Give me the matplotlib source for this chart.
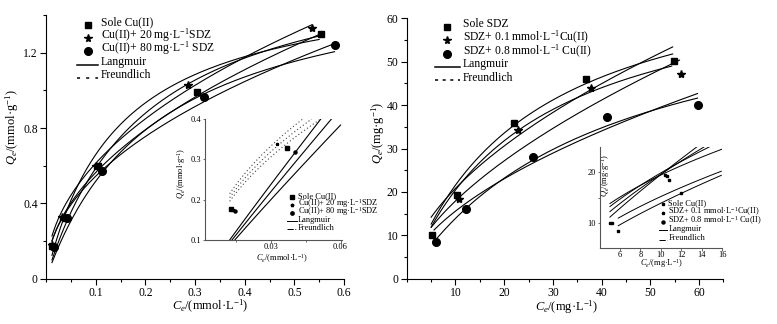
import numpy as np
import matplotlib
matplotlib.use("Agg")
import matplotlib.pyplot as plt
from matplotlib.lines import Line2D
from matplotlib.ticker import MultipleLocator, FixedLocator

plt.rcParams['font.family'] = ['Liberation Serif', 'DejaVu Serif']
plt.rcParams['mathtext.fontset'] = 'custom'
plt.rcParams['mathtext.rm'] = 'Liberation Serif'
plt.rcParams['mathtext.it'] = 'Liberation Serif:italic'

# ---------------- Left panel data (Cu(II)) ----------------
cu_sole_c = [0.0115, 0.038, 0.105, 0.305, 0.553]
cu_sole_q = [0.174, 0.321, 0.596, 0.992, 1.30]
cu_20_c = [0.013, 0.032, 0.100, 0.286, 0.535]
cu_20_q = [0.180, 0.330, 0.600, 1.031, 1.333]
cu_80_c = [0.017, 0.042, 0.113, 0.318, 0.581]
cu_80_q = [0.170, 0.320, 0.572, 0.964, 1.240]
# fitted parameters: (c_start, c_end, qm, KL) and (c_start, c_end, KF, 1/n)
cu_lang = [(0.012, 0.553, 1.757, 5.0), (0.012, 0.550, 1.60, 7.0), (0.012, 0.581, 1.666, 4.5)]
cu_freu = [(0.012, 0.553, 1.736, 0.4886), (0.012, 0.535, 1.808, 0.47), (0.012, 0.581, 1.613, 0.472)]

# left inset
cu_in_c = [0.0126, 0.0136, 0.0144, 0.0326, 0.0369, 0.0404]
cu_in_q = [0.177, 0.174, 0.173, 0.337, 0.327, 0.319]
cu_in_series = [0, 1, 2, 1, 0, 2]
cu_in_dot = [(0.0121, 0.0436, 1.82, 0.484), (0.0121, 0.0476, 1.768, 0.488), (0.0121, 0.0514, 1.727, 0.493)]
cu_in_sol = [(0.0121, 0.0514, 6.84, 0.957), (0.0131, 0.0561, 6.23, 0.953), (0.0143, 0.0600, 5.42, 0.940)]

# ---------------- Right panel data (SDZ) ----------------
sdz_sole_c = [5.1, 10.4, 22.1, 36.8, 54.8]
sdz_sole_q = [10.0, 19.3, 35.8, 46.1, 50.1]
sdz_01_c = [10.7, 22.9, 37.9, 56.3]
sdz_01_q = [18.4, 34.3, 44.0, 47.2]
sdz_08_c = [5.9, 12.1, 25.9, 41.2, 59.8]
sdz_08_q = [8.4, 16.0, 28.1, 37.3, 40.1]
sdz_lang = [(5.0, 54.6, 75.5, 0.04), (5.0, 54.4, 71.5, 0.04), (5.6, 59.7, 69.5, 0.025)]
sdz_freu = [(5.0, 54.6, 5.8, 0.555), (5.0, 56.0, 4.5, 0.60), (5.6, 59.7, 4.25, 0.564)]

# right inset
sdz_in_c = [5.02, 5.2, 5.83, 10.4, 10.55, 10.8, 12.0]
sdz_in_q = [10.0, 9.9, 8.4, 19.4, 19.2, 18.4, 15.9]
sdz_in_lines = [(5.02, 16.0, 6.17, 0.499), (5.02, 14.7, 5.065, 0.594), (5.02, 14.2, 4.008, 0.69),
                (5.02, 13.5, 2.953, 0.821), (5.83, 15.9, 3.687, 0.615), (5.83, 15.9, 2.632, 0.722)]

# legend texts
labL = ['Sole Cu(II)', r'Cu(II)+ 20 mg·L$^{-1}$SDZ', r'Cu(II)+ 80 mg·L$^{-1}$ SDZ', 'Langmuir', 'Freundlich']
labR = ['Sole SDZ', r'SDZ+ 0.1 mmol·L$^{-1}$Cu(II)', r'SDZ+ 0.8 mmol·L$^{-1}$ Cu(II)', 'Langmuir', 'Freundlich']
labLi = ['Sole Cu(II)', r'Cu(II)+ 20 mg·L$^{-1}$SDZ', r'Cu(II)+ 80 mg·L$^{-1}$SDZ', 'Langmuir', 'Freundlich']
labRi = ['Sole Cu(II)', r'SDZ+ 0.1 mmol·L$^{-1}$Cu(II)', r'SDZ+ 0.8 mmol·L$^{-1}$ Cu(II)', 'Langmuir', 'Freundlich']


def langmuir(c, qm, k):
    return qm * k * c / (1 + k * c)


def freund(c, kf, m):
    return kf * np.power(c, m)


W, H = 777, 324
fig = plt.figure(figsize=(W / 100, H / 100), dpi=100)


def fx(px):
    return px / W


def fy(py):
    return 1 - py / H


FS = 8.4
LFS = 9.0
INFS = 6.0

# ---------------- Left main ----------------
axL = fig.add_axes([fx(46), fy(278.7), (344 - 46) / W, (278.7 - 15) / H])
for (c0, c1, qm, k) in cu_lang:
    c = np.linspace(c0, c1, 200)
    axL.plot(c, langmuir(c, qm, k), color='black', lw=0.8)
for (c0, c1, kf, m) in cu_freu:
    c = np.linspace(c0, c1, 200)
    axL.plot(c, freund(c, kf, m), color='black', lw=0.8)
axL.plot(cu_sole_c, cu_sole_q, 's', color='black', ms=5, ls='none')
axL.plot(cu_20_c, cu_20_q, '*', color='black', ms=6, ls='none')
axL.plot(cu_80_c, cu_80_q, 'o', color='black', ms=5.5, ls='none')
axL.set_xlim(0, 0.6)
axL.set_ylim(0, 1.4)
axL.xaxis.set_major_locator(FixedLocator([0.1, 0.2, 0.3, 0.4, 0.5, 0.6]))
axL.xaxis.set_minor_locator(MultipleLocator(0.05))
axL.yaxis.set_major_locator(FixedLocator([0, 0.4, 0.8, 1.2]))
axL.yaxis.set_minor_locator(MultipleLocator(0.2))
axL.set_xticklabels(['0.1', '0.2', '0.3', '0.4', '0.5', '0.6'])
axL.set_yticklabels(['0', '0.4', '0.8', '1.2'])
axL.set_xlabel(r'$C_e$/(mmol·L$^{-1}$)', fontsize=LFS)
axL.set_ylabel(r'$Q_e$/(mmol·g$^{-1}$)', fontsize=LFS)
axL.xaxis.set_label_coords((210 - 46) / 298, -(306 - 278.7) / 263.7)
axL.yaxis.set_label_coords((12 - 46) / 298, (278.7 - 127) / 263.7)

# ---------------- Right main ----------------
axR = fig.add_axes([fx(406.8), fy(278.7), (723.3 - 406.8) / W, (278.7 - 18.3) / H])
for (c0, c1, qm, k) in sdz_lang:
    c = np.linspace(c0, c1, 200)
    axR.plot(c, langmuir(c, qm, k), color='black', lw=0.8)
for (c0, c1, kf, m) in sdz_freu:
    c = np.linspace(c0, c1, 200)
    axR.plot(c, freund(c, kf, m), color='black', lw=0.8)
axR.plot(sdz_sole_c, sdz_sole_q, 's', color='black', ms=5, ls='none')
axR.plot(sdz_01_c, sdz_01_q, '*', color='black', ms=6, ls='none')
axR.plot(sdz_08_c, sdz_08_q, 'o', color='black', ms=5.5, ls='none')
axR.set_xlim(0, 65)
axR.set_ylim(0, 60)
axR.xaxis.set_major_locator(FixedLocator([10, 20, 30, 40, 50, 60]))
axR.xaxis.set_minor_locator(MultipleLocator(5))
axR.yaxis.set_major_locator(MultipleLocator(10))
axR.yaxis.set_minor_locator(MultipleLocator(5))
axR.set_xlabel(r'$C_e$/(mg·L$^{-1}$)', fontsize=LFS)
axR.set_ylabel(r'$Q_e$/(mg·g$^{-1}$)', fontsize=LFS)
axR.xaxis.set_label_coords((566.7 - 406.8) / 316.5, -(307 - 278.7) / 260.4)
axR.yaxis.set_label_coords((378 - 406.8) / 316.5, (278.7 - 133) / 260.4)

for ax in (axL, axR):
    ax.spines['top'].set_visible(False)
    ax.spines['right'].set_visible(False)
    ax.tick_params(which='major', direction='out', length=4, width=0.8, labelsize=FS, pad=2)
    ax.tick_params(which='minor', direction='out', length=2.5, width=0.8)

# ---------------- Left inset ----------------
axLi = fig.add_axes([fx(204.7), fy(240), (341.7 - 204.7) / W, (240 - 119) / H])
for (c0, c1, kf, m) in cu_in_dot:
    c = np.linspace(c0, c1, 100)
    axLi.plot(c, freund(c, kf, m), color='#444444', lw=0.8, ls=(0, (1, 2.2)))
for (c0, c1, kf, m) in cu_in_sol:
    c = np.linspace(c0, c1, 100)
    axLi.plot(c, freund(c, kf, m), color='black', lw=0.8)
mk = ['s', '*', 'o']
for ci, qi, si in zip(cu_in_c, cu_in_q, cu_in_series):
    axLi.plot([ci], [qi], mk[si], color='black', ms=2.2)
axLi.set_xlim(0.0013, 0.0605)
axLi.set_ylim(0.1, 0.4)
axLi.xaxis.set_major_locator(FixedLocator([0.03, 0.06]))
axLi.xaxis.set_minor_locator(FixedLocator([0.015, 0.045]))
axLi.yaxis.set_major_locator(FixedLocator([0.1, 0.2, 0.3, 0.4]))
axLi.set_xticklabels(['0.03', '0.06'])
axLi.set_yticklabels(['0.1', '0.2', '0.3', '0.4'])
axLi.set_xlabel(r'$C_e$/(mmol·L$^{-1}$)', fontsize=INFS)
axLi.set_ylabel(r'$Q_e$/(mmol·g$^{-1}$)', fontsize=INFS)
axLi.xaxis.set_label_coords((281.7 - 204.7) / 137, -(259 - 240) / 121)
axLi.yaxis.set_label_coords((182 - 204.7) / 137, (240 - 173) / 121)

# ---------------- Right inset ----------------
axRi = fig.add_axes([fx(599.5), fy(247.9), (722.3 - 599.5) / W, (247.9 - 147.1) / H])
for (c0, c1, a, b) in sdz_in_lines:
    c = np.linspace(c0, c1, 100)
    axRi.plot(c, freund(c, a, b), color='black', lw=0.7)
axRi.plot(sdz_in_c, sdz_in_q, 's', color='black', ms=2.0, ls='none')
axRi.set_xlim(4, 16)
axRi.set_ylim(5, 25)
axRi.xaxis.set_major_locator(FixedLocator([6, 8, 10, 12, 14, 16]))
axRi.yaxis.set_major_locator(FixedLocator([10, 20]))
axRi.yaxis.set_minor_locator(FixedLocator([15]))
axRi.set_xlabel(r'$C_e$/(mg·L$^{-1}$)', fontsize=INFS)
axRi.set_ylabel(r'$Q_e$/(mg·g$^{-1}$)', fontsize=INFS)
axRi.xaxis.set_label_coords((661.7 - 599.5) / 122.8, -(264 - 247.9) / 100.8)
axRi.yaxis.set_label_coords((605 - 599.5) / 122.8, (247.9 - 176) / 100.8)

for ax in (axLi, axRi):
    ax.patch.set_alpha(0)
    ax.spines['top'].set_visible(False)
    ax.spines['right'].set_visible(False)
    for s in ('left', 'bottom'):
        ax.spines[s].set_color('#555555')
        ax.spines[s].set_linewidth(0.8)
    ax.tick_params(which='major', direction='out', length=1.8, width=0.6, labelsize=INFS,
                   color='#555555', pad=0.6)
    ax.tick_params(which='minor', direction='out', length=1.2, width=0.6, color='#555555')

for ax in (axL, axR, axLi, axRi):
    ax.xaxis.label.set_verticalalignment('center')
    ax.yaxis.label.set_verticalalignment('center')


# ---------------- Legends (drawn in figure pixel positions) ----------------
def draw_legend(labels, rows, mark_x, line_x0, line_x1, text_x, line_dy, fs, ms, dash, dash_lw):
    markers = ['s', '*', 'o']
    sizes = [ms, ms * 1.15, ms * 1.1]
    for i, lab in enumerate(labels):
        y = rows[i]
        if i < 3:
            fig.add_artist(Line2D([fx(mark_x)], [fy(y + line_dy)], marker=markers[i], ms=sizes[i],
                                  color='black', ls='none', transform=fig.transFigure))
        elif i == 3:
            fig.add_artist(Line2D([fx(line_x0), fx(line_x1)], [fy(y + line_dy)] * 2, color='black',
                                  lw=dash_lw, transform=fig.transFigure))
        else:
            fig.add_artist(Line2D([fx(line_x0), fx(line_x1)], [fy(y + line_dy)] * 2, color='black',
                                  lw=dash_lw, ls=dash, transform=fig.transFigure))
        fig.text(fx(text_x), fy(y), lab, fontsize=fs, ha='left', va='center')


draw_legend(labL, [22.7, 35.5, 48.3, 62.3, 75.0], 88.3, 77.3, 98.3, 101, 2.5, FS, 5, (0, (2, 4)), 1.1)
draw_legend(labR, [24.0, 37.7, 51.0, 64.0, 77.7], 446.7, 435, 460, 463, 2.5, FS, 5, (0, (2, 3)), 1.1)
draw_legend(labLi, [195.7, 203.5, 211.5, 220.0, 228.3], 292.3, 287.3, 296.7, 298, 1.0, INFS, 2.2, '-.', 0.7)
draw_legend(labRi, [203.3, 211.7, 220.5, 229.3, 238.5], 663.3, 659, 666.7, 668.3, 1.0, INFS, 2.0, '-.', 0.7)

fig.savefig('out.png', dpi=100)
